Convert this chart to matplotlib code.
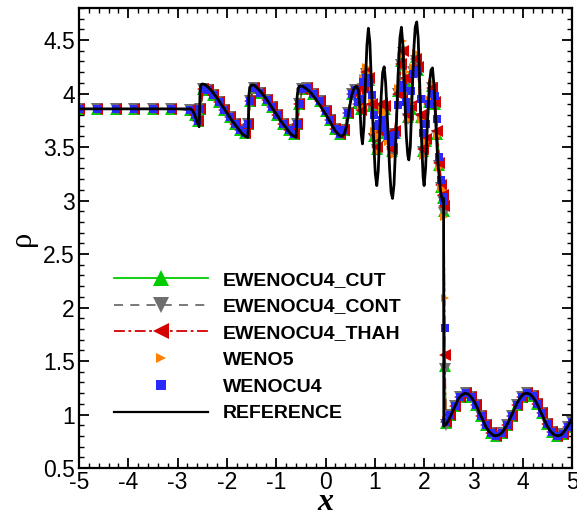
"""Density profile of the shock/entropy-wave interaction at t = 1.8."""

from __future__ import annotations

import matplotlib

matplotlib.use("Agg")
import matplotlib.pyplot as plt  # noqa: E402
import numpy as np  # noqa: E402
from matplotlib.lines import Line2D  # noqa: E402
from matplotlib.ticker import FuncFormatter, MultipleLocator  # noqa: E402

OUTPUT = "out.png"

# Reference (fine-grid) solution
X_REF = [
    -5.0, -2.74, -2.70, -2.66, -2.62, -2.58, -2.565, -2.555, -2.545, -2.525,
    -2.50, -2.45, -2.38, -2.30, -2.20, -2.10, -2.00, -1.90, -1.80, -1.70,
    -1.62, -1.575, -1.565, -1.555, -1.535, -1.50, -1.45, -1.38, -1.30, -1.20,
    -1.10, -1.00, -0.90, -0.80, -0.70, -0.63, -0.595, -0.585, -0.575, -0.555,
    -0.52, -0.47, -0.40, -0.30, -0.20, -0.10, 0.00, 0.10, 0.20, 0.28,
    0.33, 0.38, 0.43, 0.48, 0.53, 0.58, 0.63, 0.67, 0.70, 0.725,
    0.75, 0.78, 0.81, 0.84, 0.87, 0.90, 0.93, 0.97, 1.01, 1.04,
    1.07, 1.10, 1.13, 1.16, 1.19, 1.22, 1.26, 1.30, 1.33, 1.36,
    1.39, 1.43, 1.47, 1.51, 1.54, 1.57, 1.60, 1.64, 1.67, 1.69,
    1.72, 1.75, 1.79, 1.82, 1.85, 1.88, 1.91, 1.95, 1.98, 2.00,
    2.03, 2.07, 2.11, 2.14, 2.17, 2.20, 2.24, 2.28, 2.33, 2.37,
    2.395, 2.40, 2.45, 2.50, 2.55, 2.60, 2.65, 2.70, 2.76, 2.83,
    2.90, 2.96, 3.02, 3.08, 3.14, 3.20, 3.26, 3.32, 3.39, 3.45,
    3.52, 3.58, 3.64, 3.70, 3.76, 3.82, 3.88, 3.94, 4.01, 4.08,
    4.15, 4.21, 4.27, 4.33, 4.39, 4.45, 4.51, 4.57, 4.64, 4.71,
    4.78, 4.84, 4.90, 4.95, 5.00,
]
RHO_REF = [
    3.857, 3.857, 3.845, 3.81, 3.76, 3.71, 3.69, 3.80, 4.02, 4.08,
    4.09, 4.085, 4.06, 4.02, 3.96, 3.89, 3.82, 3.75, 3.69, 3.63,
    3.60, 3.59, 3.70, 3.98, 4.06, 4.08, 4.08, 4.05, 4.01, 3.95,
    3.88, 3.81, 3.74, 3.68, 3.62, 3.60, 3.59, 3.70, 3.97, 4.05,
    4.07, 4.07, 4.05, 4.01, 3.95, 3.88, 3.81, 3.73, 3.65, 3.61,
    3.60, 3.62, 3.70, 3.85, 3.98, 4.05, 4.07, 4.03, 3.85, 3.62,
    3.53, 3.70, 4.10, 4.45, 4.61, 4.48, 4.10, 3.62, 3.25, 3.14,
    3.28, 3.62, 3.98, 4.20, 4.25, 4.10, 3.72, 3.30, 3.08, 3.02,
    3.15, 3.60, 4.15, 4.52, 4.62, 4.45, 4.05, 3.60, 3.42, 3.38,
    3.50, 3.90, 4.40, 4.62, 4.67, 4.52, 4.10, 3.55, 3.22, 3.14,
    3.30, 3.75, 4.10, 4.22, 4.24, 4.08, 3.70, 3.35, 3.10, 3.00,
    3.02, 0.89, 0.91, 0.95, 1.00, 1.05, 1.10, 1.15, 1.18, 1.20,
    1.19, 1.16, 1.12, 1.06, 1.00, 0.94, 0.88, 0.84, 0.81, 0.80,
    0.81, 0.83, 0.87, 0.92, 0.98, 1.04, 1.10, 1.15, 1.19, 1.20,
    1.19, 1.16, 1.12, 1.06, 1.00, 0.94, 0.88, 0.84, 0.81, 0.80,
    0.81, 0.84, 0.88, 0.92, 0.96,
]

# Coarse-grid results: pre-shock smooth part (shared by all schemes)
X_LEFT = [
    -5.0, -4.625, -4.25, -3.875, -3.5, -3.125, -2.75, -2.65, -2.58, -2.54,
    -2.48, -2.38, -2.28, -2.16, -2.05, -1.94, -1.84, -1.73, -1.63, -1.57,
    -1.53, -1.46, -1.32, -1.19, -1.09, -0.99, -0.87, -0.75, -0.64, -0.57,
    -0.53, -0.47, -0.38, -0.25, -0.12, 0.0, 0.10, 0.20, 0.30, 0.38,
    0.46, 0.53, 0.60,
]
RHO_LEFT = [
    3.857, 3.857, 3.857, 3.857, 3.857, 3.857, 3.85, 3.80, 3.74, 3.86,
    4.04, 4.03, 3.99, 3.92, 3.85, 3.78, 3.72, 3.66, 3.63, 3.72,
    3.93, 4.05, 4.01, 3.94, 3.87, 3.80, 3.72, 3.66, 3.62, 3.72,
    3.90, 4.04, 4.05, 4.00, 3.93, 3.84, 3.75, 3.67, 3.62, 3.66,
    3.82, 4.00, 4.03,
]

# Coarse-grid results: high-frequency band and shock, one array per scheme
X_MID = [
    0.66, 0.72, 0.77, 0.83, 0.89, 0.94, 0.99, 1.04, 1.09, 1.14,
    1.20, 1.27, 1.34, 1.41, 1.48, 1.53, 1.58, 1.63, 1.68, 1.73,
    1.78, 1.83, 1.88, 1.93, 1.98, 2.04, 2.10, 2.16, 2.22, 2.27,
    2.31, 2.35, 2.38, 2.40, 2.42, 2.44,
]
RHO_CUT = [
    3.91, 3.86, 4.07, 4.22, 4.13, 3.88, 3.60, 3.48, 3.63, 3.88,
    3.86, 3.60, 3.46, 3.63, 4.02, 4.30, 4.42, 4.12, 3.78, 3.86,
    4.22, 4.34, 4.22, 3.78, 3.46, 3.56, 3.92, 4.07, 3.90, 3.62,
    3.33, 3.13, 3.02, 2.90, 1.45, 0.92,
]
RHO_CONT = [
    3.90, 3.84, 4.04, 4.18, 4.12, 3.86, 3.58, 3.47, 3.62, 3.86,
    3.85, 3.58, 3.45, 3.62, 4.00, 4.27, 4.38, 4.10, 3.76, 3.85,
    4.20, 4.30, 4.20, 3.76, 3.45, 3.55, 3.90, 4.05, 3.88, 3.60,
    3.32, 3.12, 3.00, 2.88, 1.43, 0.90,
]
RHO_THAH = [
    3.90, 3.85, 4.05, 4.20, 4.15, 3.90, 3.62, 3.50, 3.65, 3.90,
    3.88, 3.62, 3.48, 3.65, 4.00, 4.28, 4.40, 4.15, 3.80, 3.88,
    4.20, 4.32, 4.25, 3.80, 3.48, 3.58, 3.90, 4.05, 3.92, 3.65,
    3.35, 3.15, 3.05, 2.95, 1.56, 0.93,
]
RHO_WENO5 = [
    3.95, 3.88, 4.15, 4.25, 4.18, 3.95, 3.65, 3.45, 3.60, 3.85,
    3.82, 3.55, 3.42, 3.60, 4.05, 4.35, 4.49, 4.20, 3.75, 3.90,
    4.25, 4.38, 4.20, 3.75, 3.42, 3.55, 3.95, 4.10, 3.95, 3.60,
    3.30, 3.12, 3.10, 2.85, 2.09, 0.95,
]
RHO_WENOCU4 = [
    3.92, 3.95, 4.11, 4.15, 4.10, 3.99, 3.80, 3.70, 3.72, 3.75,
    3.68, 3.60, 3.55, 3.61, 3.89, 4.08, 4.05, 3.92, 3.86, 4.02,
    4.18, 4.22, 4.21, 3.95, 3.63, 3.72, 3.90, 4.00, 3.98, 3.76,
    3.41, 3.19, 3.03, 3.00, 1.81, 0.93,
]

# Coarse-grid results: post-shock smooth part (shared by all schemes)
X_RIGHT = [
    2.52, 2.62, 2.72, 2.84, 2.96, 3.06, 3.16, 3.26, 3.36, 3.46,
    3.58, 3.68, 3.78, 3.88, 3.98, 4.08, 4.20, 4.30, 4.40, 4.50,
    4.60, 4.70, 4.82, 4.92, 5.00,
]
RHO_RIGHT = [
    1.00, 1.08, 1.16, 1.20, 1.16, 1.09, 0.99, 0.90, 0.83, 0.80,
    0.83, 0.90, 0.99, 1.09, 1.16, 1.20, 1.17, 1.10, 1.01, 0.91,
    0.84, 0.80, 0.82, 0.88, 0.93,
]

SCHEMES = [
    # label, values, color, linestyle, marker, plot size, legend size
    ("EWENOCU4_CUT", RHO_CUT, "#00cc00", "-", "^", 9, 11),
    ("EWENOCU4_CONT", RHO_CONT, "#6e6e6e", (0, (5, 4)), "v", 9, 11),
    ("EWENOCU4_THAH", RHO_THAH, "#d40000", (0, (6, 2, 1.5, 2)), "<", 9, 11),
    ("WENO5", RHO_WENO5, "#ff8000", "none", ">", 6, 6.5),
    ("WENOCU4", RHO_WENOCU4, "#2a2aff", "none", "s", 6, 6.5),
]


def _setup_style() -> None:
    plt.rcParams.update(
        {
            "font.family": ["Liberation Sans", "DejaVu Sans"],
            "font.size": 16.5,
            "xtick.direction": "in",
            "ytick.direction": "in",
            "xtick.top": True,
            "ytick.right": True,
            "xtick.major.size": 7,
            "ytick.major.size": 7,
            "xtick.minor.size": 3.5,
            "ytick.minor.size": 3.5,
            "xtick.major.width": 1.3,
            "ytick.major.width": 1.3,
            "xtick.minor.width": 1.0,
            "ytick.minor.width": 1.0,
            "axes.linewidth": 1.6,
        }
    )


def plot_density() -> None:
    _setup_style()
    fig = plt.figure(figsize=(5.77, 5.17), dpi=100)
    ax = fig.add_axes([79 / 577, 49 / 517, 493 / 577, 460 / 517])

    x_num = np.concatenate([X_LEFT, X_MID, X_RIGHT])
    handles = []
    for label, mid, color, ls, marker, ms, ms_leg in SCHEMES:
        rho = np.concatenate([RHO_LEFT, mid, RHO_RIGHT])
        ax.plot(
            x_num, rho, color=color, linestyle=ls, linewidth=1.3,
            marker=marker, markersize=ms, markeredgewidth=0, zorder=2,
        )
        handles.append(
            Line2D([], [], color=color, linestyle=ls, linewidth=1.3,
                   marker=marker, markersize=ms_leg, markeredgewidth=0)
        )

    ax.plot(X_REF, RHO_REF, color="black", linewidth=2.0, zorder=3)
    handles.append(Line2D([], [], color="black", linewidth=1.6))
    labels = [s[0] for s in SCHEMES] + ["REFERENCE"]

    ax.set_xlim(-5, 5)
    ax.set_ylim(0.5, 4.8)
    ax.xaxis.set_major_locator(MultipleLocator(1))
    ax.xaxis.set_minor_locator(MultipleLocator(0.2))
    ax.yaxis.set_major_locator(MultipleLocator(0.5))
    ax.yaxis.set_minor_locator(MultipleLocator(0.1))
    plain = FuncFormatter(lambda v, _pos: f"{v:g}")
    ax.xaxis.set_major_formatter(plain)
    ax.yaxis.set_major_formatter(plain)
    ax.tick_params(axis="x", which="major", pad=2)
    ax.tick_params(axis="y", which="major", pad=3)

    # x label sits on its baseline just above the bottom edge
    ax.set_xlabel("x", fontsize=23, fontfamily="Liberation Serif",
                  fontweight="bold", fontstyle="italic")
    ax.xaxis.label.set_verticalalignment("baseline")
    ax.xaxis.set_label_coords(0.5, -0.091)
    ax.set_ylabel("ρ", fontsize=22, fontfamily="Liberation Serif", labelpad=4)

    ax.legend(
        handles, labels,
        loc="upper left",
        bbox_to_anchor=(0.071, 0.428),
        frameon=False,
        numpoints=1,
        handlelength=4.85,
        handletextpad=0.75,
        labelspacing=0.47,
        borderpad=0,
        borderaxespad=0,
        prop={"family": "Liberation Sans", "weight": "bold", "size": 14},
    )

    fig.savefig(OUTPUT, dpi=100)
    plt.close(fig)


if __name__ == "__main__":
    plot_density()
